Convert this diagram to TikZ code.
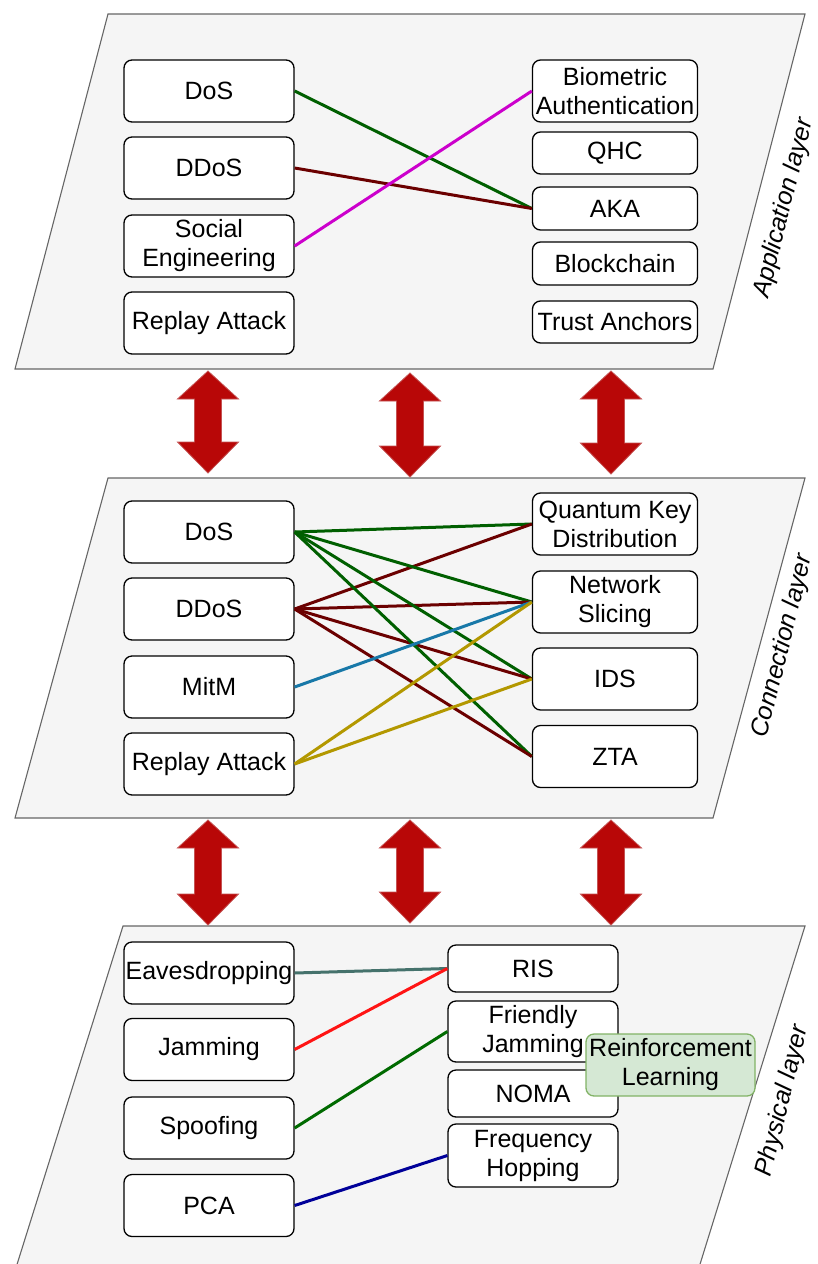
\documentclass[tikz,border=0pt]{standalone}
\usepackage{fontspec}
\setmainfont{Liberation Sans}
\definecolor{planefill}{HTML}{F5F5F5}
\definecolor{planeline}{HTML}{666666}
\definecolor{arrowfill}{HTML}{B80707}
\definecolor{arrowline}{HTML}{C45252}
\definecolor{rlfill}{HTML}{D5E8D4}
\definecolor{rlline}{HTML}{82B366}
\definecolor{lkgreen}{HTML}{005F00}
\definecolor{lkdred}{HTML}{6B0000}
\definecolor{lkmagenta}{HTML}{CC00CC}
\definecolor{lkblue}{HTML}{1878A8}
\definecolor{lkgold}{HTML}{B39800}
\definecolor{lkteal}{HTML}{45726C}
\definecolor{lkred}{HTML}{FF1414}
\definecolor{lkgreentwo}{HTML}{006A00}
\definecolor{lknavy}{HTML}{000099}
\begin{document}
\begin{tikzpicture}[x=1pt,y=-1pt,
  every node/.style={font=\fontsize{25}{29}\selectfont},
  layer/.style={fill=planefill, draw=planeline, line width=1.1pt},
  item/.style={draw=black, line width=1.3pt, fill=white, rounded corners=8pt,
    align=center, inner sep=0pt, minimum width=170, minimum height=62},
  rlbox/.style={item, draw=rlline, fill=rlfill},
  layername/.style={font=\fontsize{25}{29}\selectfont\itshape, rotate=76},
  link/.style={line width=3pt},
  updown/.style={fill=arrowfill, draw=arrowline, line width=0.8pt},
]
\useasboundingbox (0,0) rectangle (817,1264);

% layer planes
\path[layer] (108,14) -- (805,14) -- (713,369) -- (15,369) -- cycle;
\path[layer] (108,478) -- (805,478) -- (713,818) -- (15,818) -- cycle;
\begin{scope}
  \clip (0,0) rectangle (817,1264);
  \path[layer] (123,926) -- (805,926) -- (692,1290) -- (9,1290) -- cycle;
\end{scope}

% double-headed arrows between the layers
\newcommand{\layerarrow}[3]{%
  \path[updown] (#1,#2) -- (#1+30.5,#2+28) -- (#1+13.5,#2+28) -- (#1+13.5,#3-31)
    -- (#1+30.5,#3-31) -- (#1,#3) -- (#1-30.5,#3-31) -- (#1-13.5,#3-31)
    -- (#1-13.5,#2+28) -- (#1-30.5,#2+28) -- cycle;}
\layerarrow{208}{371}{473}
\layerarrow{410}{373}{477}
\layerarrow{611}{371}{474}
\layerarrow{208}{820}{925}
\layerarrow{410}{820}{923}
\layerarrow{611}{820}{925}

% application layer
\node[item] (aDoS) at (209,91) {DoS};
\node[item] (aDDoS) at (209,168) {DDoS};
\node[item] (aSoc) at (209,246) {Social\\Engineering};
\node[item] (aRep) at (209,323) {Replay Attack};
\node[item, minimum width=165] (aBio) at (615,91) {Biometric\\Authentication};
\node[item, minimum width=165, minimum height=42] (aQHC) at (615,153) {QHC};
\node[item, minimum width=165, minimum height=43] (aAKA) at (615,208.5) {AKA};
\node[item, minimum width=165, minimum height=43] (aBlk) at (615,263.5) {Blockchain};
\node[item, minimum width=165, minimum height=42] (aTA) at (615,322) {Trust Anchors};
\node[layername] (aName) at (784,208) {Application layer};

\draw[link, lkgreen] (aDoS.east) -- (aAKA.west);
\draw[link, lkdred] (aDDoS.east) -- (aAKA.west);
\draw[link, lkmagenta] (aSoc.east) -- (aBio.west);

% connection layer
\node[item] (cDoS) at (209,532) {DoS};
\node[item] (cDDoS) at (209,609) {DDoS};
\node[item] (cMitM) at (209,687) {MitM};
\node[item] (cRep) at (209,764) {Replay Attack};
\node[item, minimum width=165] (cQKD) at (615,524) {Quantum Key\\Distribution};
\node[item, minimum width=165] (cNS) at (615,602) {Network\\Slicing};
\node[item, minimum width=165] (cIDS) at (615,679) {IDS};
\node[item, minimum width=165] (cZTA) at (615,756.5) {ZTA};
\node[layername] (cName) at (783,646) {Connection layer};

\foreach \t in {cQKD,cNS,cIDS,cZTA} {
  \draw[link, lkgreen] (cDoS.east) -- (\t.west);
  \draw[link, lkdred] (cDDoS.east) -- (\t.west);
}
\draw[link, lkblue] (cMitM.east) -- (cNS.west);
\draw[link, lkgold] (cRep.east) -- (cNS.west);
\draw[link, lkgold] (cRep.east) -- (cIDS.west);

% physical layer
\node[item] (pEav) at (209,973) {Eavesdropping};
\node[item] (pJam) at (209,1049.5) {Jamming};
\node[item] (pSpo) at (209,1128) {Spoofing};
\node[item] (pPCA) at (209,1205.5) {PCA};
\node[item, minimum height=47] (pRIS) at (533,968.5) {RIS};
\node[item, minimum height=61] (pFJ) at (533,1031.5) {Friendly\\Jamming};
\node[item, minimum height=47] (pNOMA) at (533,1093.5) {NOMA};
\node[item, minimum height=63] (pFH) at (533,1155.5) {Frequency\\Hopping};
\node[rlbox, minimum width=169] (pRL) at (670.5,1065) {Reinforcement\\Learning};
\node[layername] (pName) at (783,1101) {Physical layer};

\draw[link, lkteal] (pEav.east) -- (pRIS.west);
\draw[link, lkred] (pJam.east) -- (pRIS.west);
\draw[link, lkgreentwo] (pSpo.east) -- (pFJ.west);
\draw[link, lknavy] (pPCA.east) -- (pFH.west);
\end{tikzpicture}
\end{document}
